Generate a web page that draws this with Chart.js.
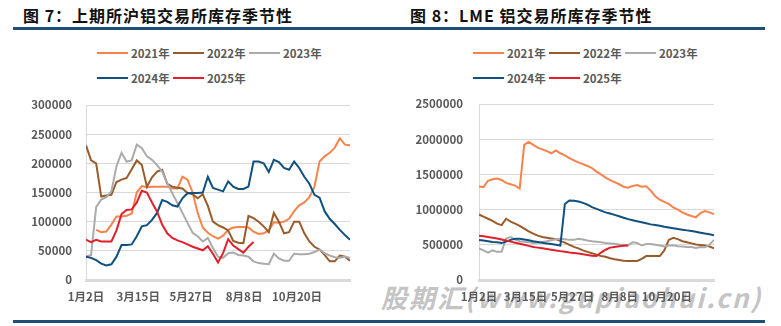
<!DOCTYPE html>
<html>
<head>
<meta charset="utf-8">
<script src="https://cdn.jsdelivr.net/npm/chart.js@4.4.1/dist/chart.umd.min.js"></script>
<style>
  html, body { margin: 0; padding: 0; background: #fff; }
  body { width: 781px; height: 326px; position: relative; overflow: hidden;
         font-family: "Noto Sans CJK SC", "Noto Sans", sans-serif; }
  .title { position: absolute; top: 4px; font-size: 16px; line-height: 22px; font-weight: bold;
           color: #111; white-space: nowrap; letter-spacing: 1px; }
  .rule { position: absolute; left: 13px; width: 752px; height: 3px; background: #1D4F79; }
  .legend-item { position: absolute; height: 16px; display: flex; align-items: center;
                 font-size: 11.5px; font-weight: bold; color: #595959; white-space: nowrap; }
  .legend-item i { display: inline-block; width: 31px; height: 2.5px; margin-right: 3px; }
  .watermark { position: absolute; left: 381px; top: 282px; font-size: 26px; line-height: 30px;
               font-weight: bold; font-style: italic; color: #C4C4C4; white-space: nowrap;
               letter-spacing: 2px; z-index: 0; }
  canvas { position: absolute; top: 0; z-index: 1; }
</style>
</head>
<body>
<div class="title" style="left:23px">图 7：上期所沪铝交易所库存季节性</div>
<div class="title" style="left:410px">图 8：LME 铝交易所库存季节性</div>
<div class="rule" style="top:27px"></div>
<div class="rule" style="top:320px"></div>
<div class="watermark">股期汇(www.gupiaohui.cn)</div>
<div id="legend-shfe"></div>
<div id="legend-lme"></div>
<canvas id="chart-shfe" width="390" height="326" style="left:0;width:390px;height:326px"></canvas>
<canvas id="chart-lme" width="391" height="326" style="left:390px;width:391px;height:326px"></canvas>
<script>
  // one point every 7 days, day 0 = 1月2日
  var STEP_DAYS = 7;
  var TICK_DAYS = [0, 72, 145, 218, 291];
  var TICK_LABELS = ['1月2日', '3月15日', '5月27日', '8月8日', '10月20日'];
  var SERIES_LABELS = ['2021年', '2022年', '2023年', '2024年', '2025年'];
  var SERIES_COLORS = ['#F6834B', '#9A5B2B', '#ABABAB', '#10507F', '#E0202B'];

  // 上期所 (SHFE) aluminium warehouse stocks, tonnes
  var SHFE_2021 = [null, null, 86000, 82000, 83000, 95000, 109000, 109000, 110000, 114000,
    150000, 161000, 159000, 160000, 160000, 160000, 160000, 157000, 157000, 177000,
    172000, 150000, 115000, 90000, 81000, 75000, 71000, 76000, 86000, 90000,
    91000, 91000, 90000, 83000, 79000, 80000, 85000, 99000, 98000, 100000,
    105000, 118000, 128000, 133000, 142000, 160000, 203000, 212000, 218000, 227000,
    243000, 232000, 231000];
  var SHFE_2022 = [231000, 205000, 200000, 143000, 145000, 146000, 168000, 172000, 175000, 190000,
    205000, 197000, 160000, 176000, 186000, 189000, 165000, 160000, 158000, 157000,
    149000, 147000, 140000, 147000, 127000, 100000, 94000, 90000, 85000, 67000,
    64000, 63000, 110000, 106000, 100000, 92000, 82000, 115000, 100000, 80000,
    82000, 100000, 100000, 80000, 66000, 57000, 52000, 43000, 32000, 32000,
    42000, 40000, 33000];
  var SHFE_2023 = [40000, 43000, 125000, 138000, 142000, 152000, 195000, 218000, 203000, 205000,
    232000, 226000, 212000, 206000, 197000, 186000, 166000, 149000, 132000, 115000,
    98000, 81000, 75000, 66000, 72000, 55000, 40000, 38000, 46000, 47000,
    43000, 42000, 40000, 32000, 29000, 28000, 27000, 45000, 37000, 33000,
    33000, 45000, 44000, 44000, 45000, 48000, 52000, 46000, 42000, 39000,
    38000, 40000, 38000];
  var SHFE_2024 = [40000, 38000, 34000, 28000, 25000, 27000, 40000, 60000, 60000, 61000,
    75000, 92000, 94000, 103000, 115000, 137000, 134000, 128000, 126000, 140000,
    149000, 149000, 149000, 150000, 177000, 158000, 155000, 152000, 169000, 160000,
    156000, 156000, 160000, 203000, 203000, 200000, 185000, 206000, 202000, 192000,
    189000, 203000, 192000, 177000, 165000, 146000, 141000, 118000, 105000, 96000,
    86000, 77000, 69000];
  var SHFE_2025 = [69000, 65000, 69000, 66000, 66000, 66000, 85000, 113000, 120000, 121000,
    133000, 153000, 150000, 133000, 117000, 95000, 80000, 72000, 68000, 65000,
    61000, 57000, 54000, 51000, 58000, 45000, 30000, 46000, 70000, 59000,
    53000, 47000, 57000, 65000];

  // LME aluminium warehouse stocks, tonnes
  var LME_2021 = [1330000, 1320000, 1410000, 1430000, 1440000, 1420000, 1380000, 1360000, 1340000, 1300000,
    1920000, 1960000, 1920000, 1880000, 1855000, 1830000, 1800000, 1840000, 1800000, 1770000,
    1730000, 1700000, 1670000, 1645000, 1620000, 1590000, 1540000, 1500000, 1455000, 1420000,
    1390000, 1360000, 1325000, 1310000, 1335000, 1350000, 1325000, 1330000, 1270000, 1190000,
    1140000, 1110000, 1080000, 1030000, 1000000, 960000, 930000, 910000, 890000, 950000,
    980000, 960000, 935000];
  var LME_2022 = [930000, 900000, 870000, 840000, 800000, 780000, 870000, 830000, 800000, 770000,
    730000, 690000, 660000, 630000, 610000, 600000, 590000, 580000, 555000, 530000,
    500000, 470000, 450000, 420000, 400000, 380000, 360000, 340000, 330000, 310000,
    295000, 285000, 275000, 270000, 270000, 270000, 300000, 340000, 340000, 340000,
    340000, 420000, 570000, 600000, 580000, 550000, 535000, 520000, 505000, 497000,
    490000, 475000, 450000];
  var LME_2023 = [450000, 420000, 390000, 420000, 400000, 400000, 590000, 610000, 575000, 550000,
    544000, 535000, 525000, 530000, 540000, 550000, 565000, 578000, 585000, 580000,
    570000, 570000, 585000, 575000, 560000, 550000, 545000, 535000, 525000, 520000,
    515000, 505000, 500000, 495000, 535000, 525000, 490000, 510000, 510000, 500000,
    490000, 475000, 490000, 495000, 480000, 475000, 470000, 470000, 455000, 470000,
    465000, 500000, 570000];
  var LME_2024 = [570000, 560000, 550000, 540000, 535000, 525000, 545000, 570000, 585000, 585000,
    575000, 565000, 550000, 540000, 530000, 520000, 510000, 500000, 490000, 1080000,
    1130000, 1125000, 1115000, 1095000, 1070000, 1035000, 1010000, 985000, 960000, 945000,
    925000, 905000, 885000, 865000, 850000, 835000, 820000, 805000, 790000, 780000,
    770000, 755000, 745000, 735000, 725000, 715000, 705000, 695000, 685000, 672000,
    660000, 650000, 635000];
  var LME_2025 = [630000, 620000, 610000, 600000, 590000, 575000, 560000, 545000, 530000, 515000,
    500000, 485000, 470000, 460000, 450000, 440000, 430000, 420000, 410000, 400000,
    390000, 385000, 375000, 365000, 355000, 345000, 340000, 390000, 430000, 460000,
    470000, 480000, 485000, 490000];

  var TICK_FONT = { family: '"Noto Sans CJK SC", "Noto Sans", sans-serif', size: 11.5, weight: 'bold' };
  var TICK_COLOR = '#595959';

  function buildLegend(id, left, top) {
    var box = document.getElementById(id);
    SERIES_LABELS.forEach(function (label, k) {
      var item = document.createElement('div');
      item.className = 'legend-item';
      item.style.left = (left + (k % 3) * 76) + 'px';
      item.style.top = (top + Math.floor(k / 3) * 25 - 8) + 'px';
      item.innerHTML = '<i style="background:' + SERIES_COLORS[k] + '"></i>' + label;
      box.appendChild(item);
    });
  }

  function makeChart(canvasId, series, cfg) {
    var datasets = series.map(function (vals, k) {
      return {
        label: SERIES_LABELS[k],
        data: vals.map(function (v, i) { return { x: i * STEP_DAYS, y: v }; }),
        borderColor: SERIES_COLORS[k],
        backgroundColor: SERIES_COLORS[k],
        borderWidth: 2,
        pointRadius: 0,
        tension: 0,
        fill: false,
        order: series.length - k,
      };
    });
    return new Chart(document.getElementById(canvasId), {
      type: 'line',
      data: { datasets: datasets },
      options: {
        responsive: false,
        animation: false,
        layout: { padding: { left: 0, right: cfg.padRight, top: cfg.top, bottom: 16 } },
        plugins: { legend: { display: false }, tooltip: { enabled: false } },
        scales: {
          x: {
            type: 'linear',
            min: 0,
            max: 364,
            grid: { display: false, drawTicks: false },
            border: { color: '#D9D9D9', width: 3 },
            afterBuildTicks: function (scale) {
              scale.ticks = TICK_DAYS.map(function (d) { return { value: d }; });
            },
            afterFit: function (scale) { scale.height = 30; },
            ticks: {
              autoSkip: false,
              maxRotation: 0,
              padding: 10,
              color: TICK_COLOR,
              font: TICK_FONT,
              callback: function (value, index) { return TICK_LABELS[index]; },
            },
          },
          y: {
            min: 0,
            max: cfg.yMax,
            afterFit: function (scale) { scale.width = cfg.yWidth; },
            grid: { color: '#D9D9D9', lineWidth: 1, drawTicks: false },
            border: { color: '#D9D9D9', width: 1 },
            ticks: {
              stepSize: cfg.yStep,
              padding: cfg.yPad,
              color: TICK_COLOR,
              font: TICK_FONT,
              callback: function (value) { return String(value); },
            },
          },
        },
      },
    });
  }

  buildLegend('legend-shfe', 97, 53);
  buildLegend('legend-lme', 473, 53);

  makeChart('chart-shfe', [SHFE_2021, SHFE_2022, SHFE_2023, SHFE_2024, SHFE_2025],
    { yMax: 300000, yStep: 50000, yWidth: 86, yPad: 14, padRight: 40, top: 105 });
  makeChart('chart-lme', [LME_2021, LME_2022, LME_2023, LME_2024, LME_2025],
    { yMax: 2500000, yStep: 500000, yWidth: 89, yPad: 16, padRight: 67, top: 104 });
</script>
</body>
</html>
